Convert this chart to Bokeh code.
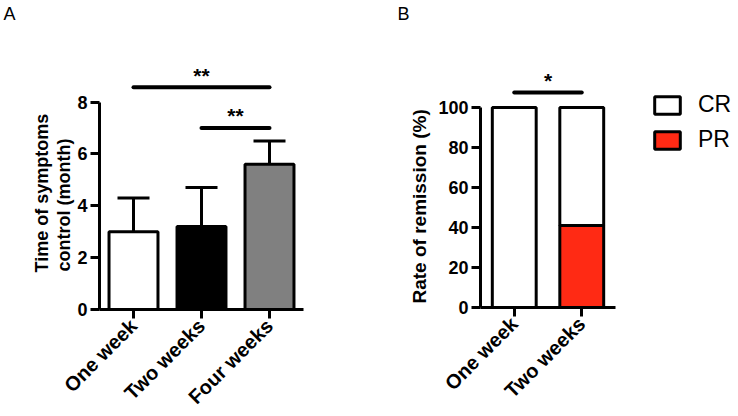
from bokeh.plotting import figure
from bokeh.models import (Range1d, FactorRange, Whisker, TeeHead, ColumnDataSource,
                          Legend, LegendItem, Title, FixedTicker)
from bokeh.layouts import row
from bokeh.embed import file_html
from bokeh.resources import INLINE
from bokeh.core.properties import value
import math

# ---- Panel A data ----
groups_a = ["One week", "Two weeks", "Four weeks"]
means_a = [3.0, 3.2, 5.6]
sd_a = [1.3, 1.5, 0.9]
colors_a = ["white", "black", "#808080"]
ticks_a = [0, 2, 4, 6, 8]
sig_a_from = ["One week", "Two weeks"]
sig_a_to = ["Four weeks", "Four weeks"]
sig_a_y = [8.57, 7.0]
sig_a_text = ["**", "**"]
ytitle_a = ["Time of symptoms", "control (month)"]

# ---- Panel B data ----
groups_b = ["One week", "Two weeks"]
cr_b = [100, 59]
pr_b = [0, 41]
ticks_b = [0, 20, 40, 60, 80, 100]
sig_b_from = ["One week"]
sig_b_to = ["Two weeks"]
sig_b_y = [107.5]
sig_b_text = ["*"]
ytitle_b = "Rate of remission (%)"

FONT = "Liberation Sans"


def style(p, ticks, bounds):
    p.grid.visible = False
    p.outline_line_color = None
    p.background_fill_color = None
    p.border_fill_color = None
    for ax in (p.xaxis[0], p.yaxis[0]):
        ax.axis_line_width = 3
        ax.axis_line_color = "black"
        ax.major_tick_in = 0
        ax.major_tick_out = 9
        ax.major_tick_line_width = 3
        ax.major_tick_line_color = "black"
        ax.minor_tick_line_color = None
        ax.major_label_text_font = FONT
        ax.major_label_text_font_style = "bold"
        ax.major_label_text_color = "black"
    p.yaxis[0].major_label_text_font_size = "18px"
    p.xaxis[0].major_label_text_font_size = "20px"
    p.yaxis[0].ticker = FixedTicker(ticks=ticks)
    p.yaxis[0].bounds = bounds
    p.yaxis[0].major_label_standoff = 3
    p.xaxis[0].major_label_orientation = math.pi / 4
    p.xaxis[0].major_label_standoff = 4


def add_sig(p, groups, frm, to, ys, texts):
    mids = [(groups.index(a) + groups.index(b) + 1) / 2 for a, b in zip(frm, to)]
    src = ColumnDataSource(dict(x0=frm, x1=to, y=ys, xm=mids, t=texts))
    p.segment(x0="x0", y0="y", x1="x1", y1="y", source=src, line_width=4,
              line_color="black", line_cap="round")
    p.text(x="xm", y="y", text="t", source=src, text_align="center",
           text_baseline="alphabetic", y_offset=-12, text_font=value(FONT),
           text_font_style="bold", text_font_size="21px", text_color="black")


def y_title(p, text, offset, size, valign, standoff):
    p.add_layout(Title(text=text, align="left", offset=offset, standoff=standoff,
                       vertical_align=valign,
                       text_font=FONT, text_font_size=size,
                       text_font_style="bold", text_color="black"), "left")


def panel_letter(p, letter, offset):
    # second (empty) line lifts the letter towards the top of the margin
    p.add_layout(Title(text=letter + "\n", align="left", offset=offset, standoff=1,
                       text_line_height=1.8,
                       text_font=FONT, text_font_size="18px",
                       text_font_style="normal", text_color="black"), "above")


# ---- Figure A ----
pa = figure(frame_width=204, frame_height=249,
            x_range=FactorRange(*groups_a, range_padding=0),
            y_range=Range1d(0, 9.6), output_backend="svg", toolbar_location=None,
            min_border_left=99, min_border_right=77, min_border_top=60,
            min_border_bottom=90)
style(pa, ticks_a, (0, 8))
y_title(pa, ytitle_a[1], 38, "18px", "middle", 0)
y_title(pa, ytitle_a[0], 37, "18px", "middle", 0)

src_a = ColumnDataSource(dict(x=groups_a, top=means_a,
                              upper=[m + s for m, s in zip(means_a, sd_a)],
                              color=colors_a))
pa.vbar(x="x", top="top", width=0.72, fill_color="color", line_color="black",
        line_width=3, source=src_a)
wa = Whisker(base="x", upper="upper", lower="top", source=src_a, line_width=3,
             line_color="black", level="overlay",
             upper_head=TeeHead(size=32, line_width=3, line_color="black"),
             lower_head=None)
pa.add_layout(wa)
add_sig(pa, groups_a, sig_a_from, sig_a_to, sig_a_y, sig_a_text)
panel_letter(pa, "A", -96)

# ---- Figure B ----
pb = figure(frame_width=135, frame_height=247,
            x_range=FactorRange(*groups_b, range_padding=0),
            y_range=Range1d(0, 123.5), output_backend="svg", toolbar_location=None,
            min_border_left=100, min_border_right=120, min_border_top=60,
            min_border_bottom=90)
style(pb, ticks_b, (0, 100))
y_title(pb, ytitle_b, 4, "19px", "top", 7)

src_b = ColumnDataSource(dict(x=groups_b, PR=pr_b, CR=cr_b))
rs = pb.vbar_stack(["PR", "CR"], x="x", width=0.65, source=src_b,
                   fill_color=["#FF2A14", "white"], line_color="black", line_width=3)
add_sig(pb, groups_b, sig_b_from, sig_b_to, sig_b_y, sig_b_text)
panel_letter(pb, "B", -83)

legend = Legend(items=[LegendItem(label="CR", renderers=[rs[1]]),
                       LegendItem(label="PR", renderers=[rs[0]])],
                location=(36, 154), padding=0, margin=0, spacing=8,
                glyph_width=32, glyph_height=22, label_height=19,
                label_standoff=15, label_text_font=FONT,
                label_text_font_size="23px", label_text_color="black",
                border_line_color=None, background_fill_color=None)
pb.add_layout(legend, "right")

layout = row(pa, pb)
open("out.html", "w").write(file_html(layout, INLINE))
